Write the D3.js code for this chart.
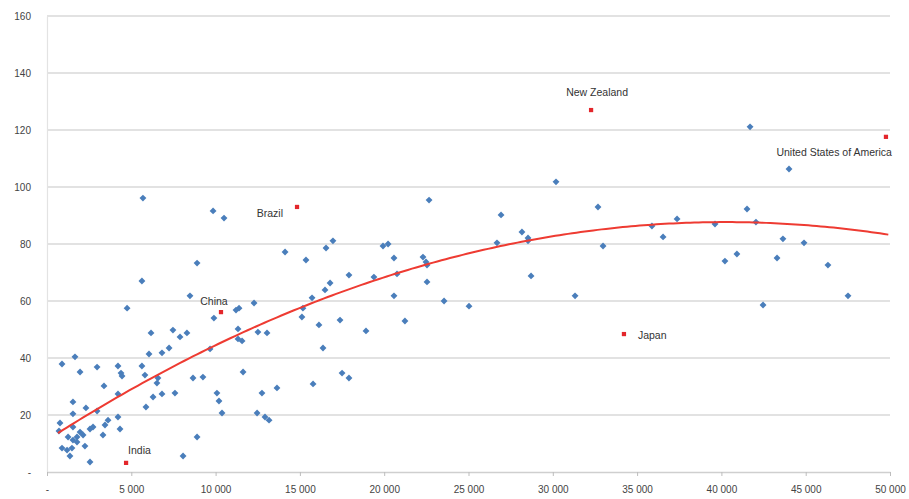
<!DOCTYPE html>
<html>
<head>
<meta charset="utf-8">
<script src="https://cdn.jsdelivr.net/npm/d3@7"></script>
<style>
  body { margin: 0; background: #fff; }
  text { font-family: "Liberation Sans", Arial, sans-serif; }
</style>
</head>
<body>
<svg id="chart" width="909" height="499"></svg>
<script>
// --- data ---
const gdp = [
  1660, 890, 1960, 2970, 4210, 4390, 4450, 5630, 5810, 3380,
  1540, 4210, 2310, 2970, 1540, 5870, 4210, 3620, 770, 4330,
  3440, 2730, 2550, 710, 1540, 1960, 1250, 1780, 2140, 3320,
  1540, 1780, 2250, 890, 1190, 1480, 1360, 2550, 5630, 4750,
  6170, 6050, 6290, 6580, 6520, 6820, 7470, 7240, 7890, 8300,
  6820, 7590, 8660, 9250, 8900, 8480, 8070, 8900, 9670, 9900,
  10080, 10200, 10380, 11210, 11390, 11330, 11330, 11570, 11630, 12280,
  12510, 13050, 12460, 12750, 12930, 13170, 13640, 14120, 5690, 9850,
  10500, 15360, 16550, 16960, 16490, 16790, 15720, 15180, 15120, 16130,
  17380, 18920, 16370, 17500, 17910, 15780, 17910, 19390, 20760, 19930,
  20230, 20580, 20580, 21230, 22300, 22480, 22540, 22540, 22660, 23550,
  25030, 26690, 26930, 28170, 28530, 28530, 28710, 30190, 31320, 32680,
  32980, 35880, 36540, 37370, 39620, 40210, 40920, 41520, 41700, 42050,
  42470, 43300, 43650, 44010, 44900, 46320, 47510
];
const score = [
  40.4, 37.9, 35.1, 36.8, 37.2, 34.7, 33.7, 37.2, 34.0, 30.2,
  24.6, 27.4, 22.5, 21.4, 20.4, 22.8, 19.3, 18.2, 17.2, 15.1,
  16.5, 15.8, 15.1, 14.4, 15.8, 14.0, 12.3, 12.3, 13.0, 13.0,
  11.2, 10.5, 9.1, 8.4, 7.7, 8.4, 5.6, 3.5, 67.0, 57.5,
  48.8, 41.4, 26.3, 33.0, 31.2, 41.8, 49.8, 43.5, 47.4, 48.8,
  27.4, 27.7, 33.0, 33.3, 73.3, 61.8, 5.6, 12.3, 43.2, 54.0,
  27.7, 24.9, 20.7, 56.8, 57.5, 50.2, 46.7, 46.0, 35.1, 59.3,
  49.1, 48.8, 20.7, 27.7, 19.3, 18.2, 29.5, 77.2, 96.1, 91.6,
  89.1, 74.4, 78.6, 81.1, 63.9, 66.3, 61.1, 57.5, 54.4, 51.6,
  53.3, 49.5, 43.5, 34.7, 33.0, 30.9, 69.1, 68.4, 69.5, 79.3,
  80.0, 75.1, 61.8, 53.0, 75.4, 73.7, 72.6, 66.7, 95.4, 60.0,
  58.2, 80.4, 90.2, 84.2, 82.1, 81.1, 68.8, 101.8, 61.8, 93.0,
  79.3, 86.3, 82.5, 88.8, 87.0, 74.0, 76.5, 92.3, 121.1, 87.7,
  58.6, 75.1, 81.8, 106.3, 80.4, 72.6, 61.8
];
const namedCountries = ["India", "China", "Brazil", "New Zealand", "Japan", "United States of America"];
const namedGdp = [4690, 10320, 14830, 32270, 34220, 49760];
const namedScore = [3.2, 56.1, 93.0, 127.0, 48.4, 117.6];
const xTicks = [0, 5000, 10000, 15000, 20000, 25000, 30000, 35000, 40000, 45000, 50000];
const yTicks = [0, 20, 40, 60, 80, 100, 120, 140, 160];
// polynomial trendline, y = a + b*x + c*x^2
const trendCoef = [11.2, 3.80e-3, -4.72e-8];
const trendRange = [650, 49900];

// --- setup ---
const margin = { top: 16, right: 19, bottom: 27, left: 47 };
const width = 909 - margin.left - margin.right;
const height = 499 - margin.top - margin.bottom;

const svg = d3.select("#chart");
const g = svg.append("g").attr("transform", `translate(${margin.left},${margin.top})`);

const x = d3.scaleLinear().domain([0, 50000]).range([0, width]);
const y = d3.scaleLinear().domain([0, 160]).range([height, 0]);

const fmt = d => d === 0 ? "-" : d3.format(",")(d).replace(/,/g, " ");

// gridlines
g.append("g")
  .selectAll("line")
  .data(yTicks.filter(d => d > 0))
  .join("line")
  .attr("x1", 0).attr("x2", width)
  .attr("y1", d => y(d)).attr("y2", d => y(d))
  .attr("stroke", "#d9d9d9")
  .attr("stroke-width", 1.5);

// y axis
const yAxis = g.append("g")
  .call(d3.axisLeft(y).tickValues(yTicks).tickFormat(fmt).tickSize(0).tickPadding(16));
yAxis.select(".domain").attr("stroke", "#e3e3e3").attr("stroke-width", 1.2);
yAxis.selectAll("text").attr("fill", "#444").style("font-size", "10px");

// x axis
const xAxis = g.append("g")
  .attr("transform", `translate(0,${height})`)
  .call(d3.axisBottom(x).tickValues(xTicks).tickFormat(fmt).tickSize(4).tickSizeOuter(0).tickPadding(10));
xAxis.select(".domain").attr("stroke", "#cfcfcf").attr("stroke-width", 1.5);
xAxis.selectAll(".tick line").attr("stroke", "#bdbdbd");
xAxis.selectAll("text").attr("fill", "#444").style("font-size", "10px");

// blue points
const points = gdp.map((v, i) => ({ gdp: v, score: score[i] }));
g.append("g")
  .selectAll("path")
  .data(points)
  .join("path")
  .attr("d", d3.symbol(d3.symbolDiamond2, 30))
  .attr("transform", d => `translate(${x(d.gdp)},${y(d.score)})`)
  .attr("fill", "#4a7ebb");

// trendline
const trend = d3.range(trendRange[0], trendRange[1] + 1, 250)
  .map(v => [v, trendCoef[0] + trendCoef[1] * v + trendCoef[2] * v * v]);
g.append("path")
  .datum(trend)
  .attr("fill", "none")
  .attr("stroke", "#ee3b32")
  .attr("stroke-width", 2)
  .attr("d", d3.line().x(d => x(d[0])).y(d => y(d[1])));

// named countries (red)
const named = namedCountries.map((n, i) => ({ name: n, gdp: namedGdp[i], score: namedScore[i] }));
const labelPlace = {
  "India": [2, -9, "start"],
  "China": [-7, -7, "middle"],
  "Brazil": [-14, 10, "end"],
  "New Zealand": [6, -14, "middle"],
  "Japan": [14, 5, "start"],
  "United States of America": [6, 19, "end"]
};
g.append("g")
  .selectAll("path")
  .data(named)
  .join("path")
  .attr("d", d3.symbol(d3.symbolSquare, 18))
  .attr("transform", d => `translate(${x(d.gdp)},${y(d.score)})`)
  .attr("fill", "#e3262b");

g.append("g")
  .selectAll("text")
  .data(named)
  .join("text")
  .attr("x", d => x(d.gdp) + labelPlace[d.name][0])
  .attr("y", d => y(d.score) + labelPlace[d.name][1])
  .attr("text-anchor", d => labelPlace[d.name][2])
  .attr("fill", "#333")
  .style("font-size", "10.5px")
  .text(d => d.name);
</script>
</body>
</html>
